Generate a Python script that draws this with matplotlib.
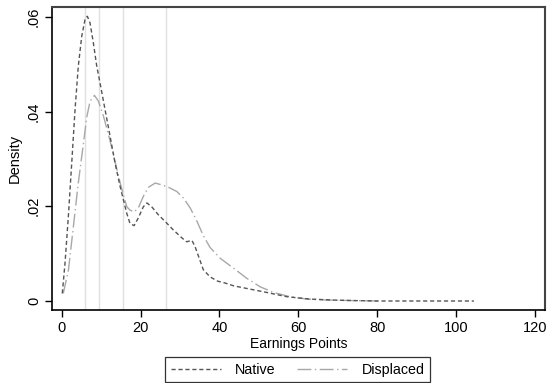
import numpy as np
import matplotlib
matplotlib.use("Agg")
import matplotlib.pyplot as plt

plt.rcParams['font.family'] = ['Liberation Sans', 'DejaVu Sans']

# === Dados ===
native_x = [0.15, 0.84, 1.68, 2.54, 3.38, 4.21, 5.08, 5.91, 6.5, 7.18, 8.02, 8.88,
            9.72, 10.99, 12.26, 13.53, 14.8, 15.6, 16.5, 17.3, 18.35, 19.4, 20.7,
            21.6, 22.8, 24.5, 26.2, 28.3, 30.5, 31.7, 33.0, 33.8, 34.7, 35.9, 37.6,
            39.5, 41.4, 43.6, 47.8, 52.0, 57.1, 63.0, 68.9, 73.2, 80.0, 90.0, 104.5]
native_y = [0.0016, 0.0080, 0.0178, 0.0291, 0.0404, 0.0496, 0.0559, 0.0594, 0.0601,
            0.0587, 0.0545, 0.0496, 0.0460, 0.0404, 0.0348, 0.0291, 0.0242, 0.0215,
            0.0185, 0.0164, 0.0159, 0.0175, 0.0199, 0.0207, 0.0199, 0.0182, 0.0168,
            0.0150, 0.0133, 0.0125, 0.0128, 0.0115, 0.0094, 0.0066, 0.0051, 0.0042,
            0.0038, 0.0032, 0.0025, 0.0018, 0.0009, 0.0004, 0.0002, 0.0001, 0.0,
            0.0, 0.0]

displaced_x = [0.4, 1.7, 2.96, 4.2, 5.5, 6.35, 7.2, 8.3, 9.3, 10.6, 12.2, 13.5, 14.8,
               15.6, 16.5, 17.3, 18.35, 19.4, 20.7, 22.0, 23.7, 25.4, 27.1, 29.2,
               30.9, 32.6, 34.3, 35.9, 37.6, 40.2, 43.6, 46.9, 50.3, 53.7, 57.9,
               62.2, 67.3, 73.2, 80.5]
displaced_y = [0.0016, 0.0065, 0.0157, 0.0249, 0.0332, 0.0388, 0.0422, 0.0434, 0.0422,
               0.0390, 0.0340, 0.0295, 0.0250, 0.0225, 0.0199, 0.0192, 0.0188, 0.0196,
               0.0221, 0.0240, 0.0249, 0.0245, 0.0240, 0.0231, 0.0217, 0.0196, 0.0168,
               0.0138, 0.0113, 0.0090, 0.0069, 0.0048, 0.0030, 0.0018, 0.0009, 0.0004,
               0.0002, 0.0001, 0.0]

linhas_verticais = [6.0, 9.5, 15.5, 26.4]

x_ticks = [0, 20, 40, 60, 80, 100, 120]
y_ticks = [0, 0.02, 0.04, 0.06]
y_labels = ["0", ".02", ".04", ".06"]

# === Figura ===
fig = plt.figure(figsize=(5.52, 3.83), dpi=100)
ax = fig.add_axes([0.0942, 0.1906, 0.893, 0.7904])

for xv in linhas_verticais:
    ax.axvline(xv, color="#e0e0e0", lw=1.0, zorder=1)

ax.plot(native_x, native_y, color="#555555", lw=1.0, dashes=(3, 2),
        label="Native", zorder=3)
ax.plot(displaced_x, displaced_y, color="#a8a8a8", lw=1.0,
        dashes=(10, 2.5, 1, 2.5), label="Displaced", zorder=2)

ax.set_xlim(-2.46, 122.5)
ax.set_ylim(-0.0019, 0.0620)

ax.set_xticks(x_ticks)
ax.set_yticks(y_ticks)
ax.set_yticklabels(y_labels, rotation=90, va="center")
ax.tick_params(direction="out", length=5, width=1, labelsize=10.5, colors="black")
ax.tick_params(axis="x", pad=3)
ax.tick_params(axis="y", pad=3)

for lado in ["left", "bottom"]:
    ax.spines[lado].set_color("black")
    ax.spines[lado].set_linewidth(1.2)
for lado in ["top", "right"]:
    ax.spines[lado].set_color("#444444")
    ax.spines[lado].set_linewidth(1.5)

ax.set_xlabel("Earnings Points", fontsize=10, labelpad=1)
ax.set_ylabel("Density", fontsize=10.5, labelpad=4)

leg = fig.legend(loc="upper center", bbox_to_anchor=(0.539, 0.068), ncol=2,
                 fontsize=10.3, frameon=True, fancybox=False, handlelength=3.5,
                 columnspacing=1.5, borderpad=0.4, handletextpad=1.0,
                 borderaxespad=0.0)
leg.get_frame().set_edgecolor("black")
leg.get_frame().set_linewidth(0.9)

plt.savefig("out.png", dpi=100)
